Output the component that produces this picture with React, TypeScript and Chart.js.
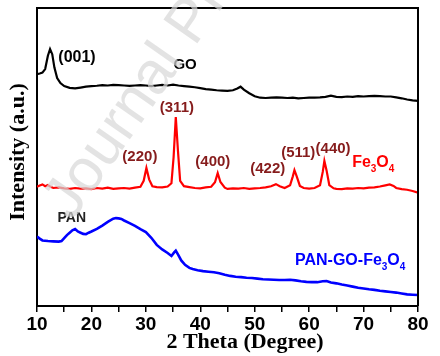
import { useEffect, useRef } from 'react';
import { Chart, registerables } from 'chart.js';
Chart.register(...registerables);

// ---- Data (2 Theta in degrees, intensity in arbitrary units, offset per pattern) ----
const goTheta = [10, 10.5, 11, 11.5, 12, 12.4, 12.8, 13.2, 13.7, 14.3, 15, 16, 17, 18, 19, 20, 21, 22, 23, 24, 25, 26, 27, 28, 29, 30, 31, 32, 33, 34, 35, 36, 37, 38, 39, 40, 41, 42, 43, 44, 45, 46, 46.8, 47.4, 48, 49, 50, 51, 52, 53, 54, 55, 56, 57, 58, 59, 60, 61, 62, 63, 64, 65, 66, 67, 68, 69, 70, 71, 72, 73, 74, 75, 76, 77, 78, 79, 80];
const goIntensity = [77.8, 78.0, 78.3, 79.5, 84.0, 86.2, 84.5, 80.0, 76.5, 74.8, 73.8, 73.2, 73.0, 73.3, 73.6, 73.8, 73.9, 74.1, 74.0, 74.2, 74.1, 74.0, 73.9, 74.0, 74.1, 74.0, 73.8, 74.0, 74.2, 74.0, 74.3, 74.0, 73.8, 73.6, 73.4, 73.1, 72.8, 72.6, 72.4, 72.3, 72.2, 72.4, 73.0, 73.6, 72.6, 71.4, 70.4, 69.9, 69.8, 69.9, 70.0, 69.9, 69.8, 69.9, 69.7, 69.8, 69.9, 69.9, 70.0, 70.2, 70.6, 70.2, 70.1, 70.3, 70.2, 70.4, 70.3, 70.4, 70.5, 70.4, 70.3, 70.3, 70.0, 69.7, 69.3, 69.0, 68.8];

const feTheta = [10, 10.5, 11, 11.5, 12, 12.5, 13, 14, 15, 16, 17, 18, 19, 20, 21, 22, 23, 24, 25, 26, 27, 28, 29, 29.6, 30.1, 30.6, 31.2, 32, 33, 34, 34.7, 35.1, 35.5, 35.9, 36.3, 37, 38, 39, 40, 41, 42, 42.7, 43.2, 43.7, 44.5, 45, 46, 47, 48, 49, 50, 51, 52, 53, 53.9, 54.6, 55.5, 56.5, 57, 57.3, 57.7, 58.3, 59, 60, 61, 62, 62.5, 62.8, 63.2, 63.7, 64.5, 65, 66, 67, 68, 69, 70, 71, 72, 73, 74, 74.8, 75.5, 76, 77, 78, 79, 80];
const feIntensity = [40.0, 40.4, 40.8, 40.2, 40.6, 40.0, 39.6, 39.8, 39.5, 39.3, 39.6, 39.4, 39.5, 39.2, 39.6, 39.4, 39.7, 39.3, 39.5, 39.6, 39.4, 39.7, 40.0, 42.0, 46.3, 42.5, 40.2, 39.9, 39.8, 40.1, 41.2, 50.0, 63.4, 52.0, 42.0, 40.2, 39.9, 39.6, 39.5, 39.8, 40.0, 41.5, 44.6, 41.6, 39.7, 39.3, 39.5, 39.4, 39.6, 39.3, 39.5, 39.6, 39.8, 40.2, 40.9, 40.2, 39.6, 40.5, 43.5, 45.6, 43.6, 40.3, 39.6, 39.4, 39.6, 40.5, 45.0, 48.7, 45.5, 40.6, 39.5, 39.3, 39.2, 39.5, 39.4, 39.6, 39.5, 39.7, 39.8, 40.1, 40.5, 40.8, 40.3, 39.6, 39.2, 39.0, 38.6, 38.0];

const panTheta = [10, 10.5, 11, 12, 13, 14, 14.5, 15, 15.5, 16, 16.5, 17, 17.5, 18, 18.5, 19, 19.5, 20, 21, 22, 23, 24, 24.5, 25, 25.5, 26, 27, 28, 29, 30, 31, 32, 33, 34, 34.7, 35.2, 35.5, 36, 36.5, 37.2, 38, 38.6, 39.5, 40.5, 41.5, 42.5, 43.5, 44.5, 45.5, 46.5, 47.5, 48.5, 49.5, 50.5, 51.5, 52.5, 53.5, 54.5, 55.5, 56.5, 57.5, 58.5, 59.5, 60.5, 61.5, 62.5, 63.2, 64, 65, 66, 67, 68, 69, 70, 71, 72, 73, 74, 75, 76, 77, 78, 79, 80];
const panIntensity = [23.3, 22.6, 22.0, 21.8, 21.7, 21.6, 21.8, 22.8, 23.8, 24.6, 25.4, 25.8, 25.0, 24.6, 24.2, 24.1, 24.6, 25.0, 25.9, 27.0, 28.2, 29.3, 29.5, 29.4, 29.2, 28.7, 27.8, 26.9, 25.8, 24.8, 22.9, 20.5, 19.0, 17.8, 16.8, 18.0, 18.6, 17.0, 15.3, 13.8, 12.8, 12.4, 12.0, 11.7, 11.5, 11.3, 11.0, 10.5, 10.1, 9.8, 9.7, 9.5, 9.4, 9.2, 9.0, 8.9, 8.8, 8.7, 8.7, 8.8, 8.6, 8.3, 8.1, 8.0, 8.0, 8.3, 8.4, 7.9, 7.6, 7.2, 6.9, 6.5, 6.1, 5.9, 5.6, 5.4, 5.1, 4.9, 4.7, 4.5, 4.2, 3.9, 3.8, 3.7];

const xTicksMajor = [10, 20, 30, 40, 50, 60, 70, 80];

// ---- Annotation labels (anchored in data space) ----
const DARKRED = '#861c1c';
type Seg = { t: string; sub?: boolean };
const annotations: { x: number; y: number; segs: Seg[]; color: string; size: number; align: 'center' | 'left' }[] = [
  { x: 17.35, y: 83.2, segs: [{ t: '(001)' }], color: '#000', size: 16, align: 'center' },
  { x: 37.2, y: 80.9, segs: [{ t: 'GO' }], color: '#000', size: 15, align: 'center' },
  { x: 35.7, y: 66.4, segs: [{ t: '(311)' }], color: DARKRED, size: 15, align: 'center' },
  { x: 28.9, y: 50.0, segs: [{ t: '(220)' }], color: DARKRED, size: 15, align: 'center' },
  { x: 42.3, y: 48.3, segs: [{ t: '(400)' }], color: DARKRED, size: 15, align: 'center' },
  { x: 52.4, y: 46.0, segs: [{ t: '(422)' }], color: DARKRED, size: 15, align: 'center' },
  { x: 58.0, y: 51.3, segs: [{ t: '(511)' }], color: DARKRED, size: 15, align: 'center' },
  { x: 64.4, y: 52.7, segs: [{ t: '(440)' }], color: DARKRED, size: 15, align: 'center' },
  { x: 67.9, y: 48.0, segs: [{ t: 'Fe' }, { t: '3', sub: true }, { t: 'O' }, { t: '4', sub: true }], color: '#ff0000', size: 16, align: 'left' },
  { x: 57.4, y: 15.1, segs: [{ t: 'PAN-GO-Fe' }, { t: '3', sub: true }, { t: 'O' }, { t: '4', sub: true }], color: '#0000ff', size: 16, align: 'left' },
  { x: 16.4, y: 29.5, segs: [{ t: 'PAN' }], color: '#222', size: 14, align: 'center' },
];

const zip = (xs: number[], ys: number[]) => xs.map((x, i) => ({ x, y: ys[i] }));

const SANS = '"Liberation Sans", Arial, sans-serif';
const SERIF = '"Liberation Serif", "Times New Roman", serif';

const decorPlugin = {
  id: 'decor',
  afterDraw(chart: any) {
    const ctx: CanvasRenderingContext2D = chart.ctx;
    const { left, top, right, bottom } = chart.chartArea;
    const xs = chart.scales.x;
    const ys = chart.scales.y;
    ctx.save();
    // frame (top + right)
    ctx.strokeStyle = '#000';
    ctx.lineWidth = 2;
    ctx.beginPath();
    ctx.moveTo(left, top);
    ctx.lineTo(right, top);
    ctx.lineTo(right, bottom);
    ctx.stroke();

    // annotations
    ctx.textBaseline = 'middle';
    for (const a of annotations) {
      const px = xs.getPixelForValue(a.x);
      const py = ys.getPixelForValue(a.y);
      const mainFont = `bold ${a.size}px ${SANS}`;
      const subFont = `bold ${Math.round(a.size * 0.65)}px ${SANS}`;
      let total = 0;
      for (const s of a.segs) {
        ctx.font = s.sub ? subFont : mainFont;
        total += ctx.measureText(s.t).width;
      }
      let cx = a.align === 'center' ? px - total / 2 : px;
      ctx.fillStyle = a.color;
      ctx.textAlign = 'left';
      for (const s of a.segs) {
        ctx.font = s.sub ? subFont : mainFont;
        ctx.fillText(s.t, cx, s.sub ? py + a.size * 0.38 : py);
        cx += ctx.measureText(s.t).width;
      }
    }

    // axis titles
    ctx.fillStyle = '#000';
    ctx.font = `bold 22px ${SERIF}`;
    ctx.textAlign = 'center';
    ctx.textBaseline = 'middle';
    ctx.fillText('2 Theta (Degree)', 245, 342);
    ctx.save();
    ctx.translate(18, 152);
    ctx.rotate(-Math.PI / 2);
    ctx.fillText('Intensity (a.u.)', 0, 0);
    ctx.restore();

    // watermark
    ctx.save();
    ctx.translate(72, 222);
    ctx.rotate((-55 * Math.PI) / 180);
    ctx.font = `60px ${SANS}`;
    ctx.textAlign = 'left';
    ctx.textBaseline = 'alphabetic';
    ctx.fillStyle = 'rgba(215,215,215,0.7)';
    ctx.fillText('Journal Pre-proof', 0, 0);
    ctx.restore();

    ctx.restore();
  },
};

export default function App() {
  const ref = useRef<HTMLCanvasElement>(null);
  useEffect(() => {
    const chart = new Chart(ref.current!, {
      type: 'line',
      data: {
        datasets: [
          { label: 'GO', data: zip(goTheta, goIntensity), borderColor: '#000000', borderWidth: 2.2, pointRadius: 0, tension: 0 },
          { label: 'Fe3O4', data: zip(feTheta, feIntensity), borderColor: '#ff0000', borderWidth: 2.2, pointRadius: 0, tension: 0 },
          { label: 'PAN-GO-Fe3O4', data: zip(panTheta, panIntensity), borderColor: '#0000ff', borderWidth: 2.6, pointRadius: 0, tension: 0 },
        ],
      },
      options: {
        responsive: false,
        animation: false,
        devicePixelRatio: 1,
        layout: { padding: { top: 8, right: 22, left: 0, bottom: 0 } },
        plugins: { legend: { display: false }, tooltip: { enabled: false } },
        scales: {
          x: {
            type: 'linear',
            min: 10,
            max: 80,
            afterFit: (s: any) => { s.height = 50; },
            ticks: {
              stepSize: 5,
              autoSkip: false,
              maxRotation: 0,
              padding: 1,
              color: '#000',
              font: { family: SANS, size: 19, weight: 'bold' },
              callback: (v: any) => (xTicksMajor.includes(Number(v)) ? String(v) : ''),
            },
            grid: { display: true, drawOnChartArea: false, drawTicks: true, tickLength: 6, color: '#000', lineWidth: 1.5 },
            border: { display: true, color: '#000', width: 2 },
          },
          y: {
            type: 'linear',
            min: 0,
            max: 100,
            afterFit: (s: any) => { s.width = 37; },
            ticks: { display: false },
            grid: { display: false },
            border: { display: true, color: '#000', width: 2 },
          },
        },
      },
      plugins: [decorPlugin],
    } as any);
    return () => chart.destroy();
  }, []);
  return (
    <div style={{ position: 'absolute', left: 0, top: 0, width: 440, height: 356, background: '#fff' }}>
      <canvas ref={ref} width={440} height={356} style={{ display: 'block' }} />
    </div>
  );
}
